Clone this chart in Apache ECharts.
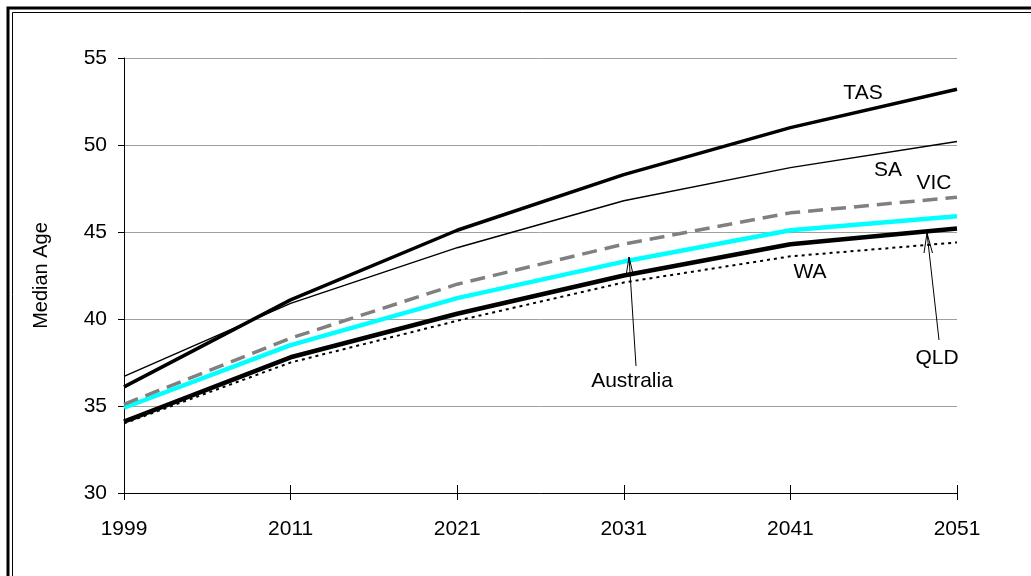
<!DOCTYPE html>
<html>
<head>
<meta charset="utf-8">
<script src="https://cdn.jsdelivr.net/npm/echarts@6/dist/echarts.min.js"></script>
<style>
html,body{margin:0;padding:0;background:#fff;}
#chart{width:1031px;height:576px;}
</style>
</head>
<body>
<div id="chart"></div>
<script>
const years = ['1999','2011','2021','2031','2041','2051'];
const yTicks = [30, 35, 40, 45, 50, 55];
const tas = [36.1, 41.1, 45.1, 48.3, 51.0, 53.2];
const sa = [36.7, 40.9, 44.1, 46.8, 48.7, 50.2];
const vic = [35.1, 38.9, 42.0, 44.3, 46.1, 47.0];
const australia = [34.9, 38.5, 41.2, 43.3, 45.1, 45.9];
const qld = [34.1, 37.8, 40.3, 42.5, 44.3, 45.2];
const wa = [34.0, 37.5, 39.9, 42.1, 43.6, 44.4];
const yAxisTitle = 'Median Age';
const seriesLabels = ['TAS', 'SA', 'VIC', 'Australia', 'QLD', 'WA'];

const FONT = 'Liberation Sans, Arial, sans-serif';
const chart = echarts.init(document.getElementById('chart'), null, {renderer: 'canvas'});

function line(name, data, color, width, type, z) {
  return {
    name: name, type: 'line', data: data, symbol: 'none', silent: true,
    z: z,
    lineStyle: {color: color, width: width, type: type, cap: 'butt'}
  };
}

function txt(text, cx, cy) {
  return {type: 'text', x: cx, y: cy, z: 100,
    style: {text: text, fill: '#000', font: '21px ' + FONT, align: 'center', verticalAlign: 'middle'}};
}
function arrow(x1, y1, x2, y2, ax1, ay1, ax2, ay2) {
  return [
    {type: 'line', z: 100, shape: {x1: x1, y1: y1, x2: x2, y2: y2}, style: {stroke: '#000', lineWidth: 1}},
    {type: 'polyline', z: 100, shape: {points: [[ax1, ay1], [x2, y2], [ax2, ay2]]}, style: {stroke: '#000', lineWidth: 1, fill: null}}
  ];
}

const gridBox = {left: 124, right: 74, top: 58, bottom: 83, containLabel: false};

const option = {
  animation: false,
  backgroundColor: '#fff',
  grid: [Object.assign({}, gridBox), Object.assign({}, gridBox)],
  xAxis: [{
    gridIndex: 0,
    type: 'category', data: years, boundaryGap: false, position: 'bottom',
    axisLine: {show: true, lineStyle: {color: '#000', width: 1}},
    axisTick: {show: true, inside: false, length: 7, lineStyle: {color: '#000'}},
    axisLabel: {color: '#000', fontSize: 21, fontFamily: FONT, margin: 26},
    splitLine: {show: false}
  }, {
    gridIndex: 1,
    type: 'category', data: years, boundaryGap: false, position: 'bottom',
    axisLine: {show: false},
    axisTick: {show: true, inside: true, length: 8, lineStyle: {color: '#000'}},
    axisLabel: {show: false},
    splitLine: {show: false}
  }],
  yAxis: [{
    gridIndex: 0,
    type: 'value', min: yTicks[0], max: yTicks[yTicks.length - 1], interval: 5,
    name: yAxisTitle, nameLocation: 'middle', nameGap: 73, nameRotate: 90,
    nameTextStyle: {color: '#000', fontSize: 20, fontFamily: FONT},
    axisLine: {show: true, lineStyle: {color: '#000', width: 1}},
    axisTick: {show: true, inside: false, length: 6, lineStyle: {color: '#000'}},
    axisLabel: {color: '#000', fontSize: 21, fontFamily: FONT, margin: 17},
    splitLine: {show: true, lineStyle: {color: '#a0a0a0', width: 1}}
  }, {
    gridIndex: 1,
    type: 'value', min: yTicks[0], max: yTicks[yTicks.length - 1], interval: 5,
    show: false
  }],
  series: [
    line(seriesLabels[5], wa, '#000', 2, [3, 4], 2),
    line(seriesLabels[4], qld, '#000', 4.5, 'solid', 3),
    line(seriesLabels[3], australia, '#00ffff', 4.5, 'solid', 4),
    line(seriesLabels[2], vic, '#808080', 3.5, [15, 8], 5),
    line(seriesLabels[1], sa, '#000', 1.5, 'solid', 6),
    line(seriesLabels[0], tas, '#000', 3.5, 'solid', 7)
  ],
  graphic: [
    {type: 'rect', z: 100, shape: {x: 8, y: 8, width: 1200, height: 800}, style: {stroke: '#000', lineWidth: 3, fill: null}},
    {type: 'rect', z: 100, shape: {x: 12.5, y: 12.5, width: 1200, height: 800}, style: {stroke: '#000', lineWidth: 1, fill: null}},
    txt(seriesLabels[0], 863, 93),
    txt(seriesLabels[1], 888, 170),
    txt(seriesLabels[2], 934, 183),
    txt(seriesLabels[5], 810, 272),
    txt(seriesLabels[4], 937, 358),
    txt(seriesLabels[3], 632, 381)
  ].concat(
    arrow(636, 366, 629, 257, 626.5, 273, 632.8, 273),
    arrow(939, 340, 927, 233, 924, 253, 932.5, 253)
  )
};
chart.setOption(option);
</script>
</body>
</html>
